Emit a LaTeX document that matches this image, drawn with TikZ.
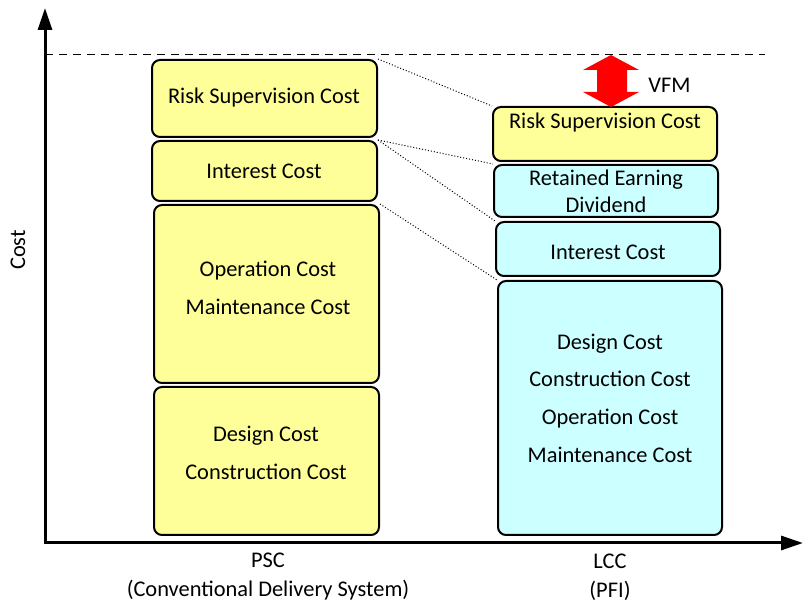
\documentclass[tikz,border=0pt]{standalone}
\usepackage{fontspec}
\setmainfont{Carlito}
\usetikzlibrary{arrows.meta}
\definecolor{paleyellow}{HTML}{FFFF99}
\definecolor{palecyan}{HTML}{CCFFFF}

\begin{document}
\begin{tikzpicture}[x=0.5pt, y=-0.5pt,
		box/.style={draw, line width=1pt, rounded corners=4pt, inner sep=0pt},
		ybox/.style={box, fill=paleyellow},
		cbox/.style={box, fill=palecyan},
		lbl/.style={font=\fontsize{11.2}{13.4}\selectfont, align=center, inner sep=0pt},
		wide/.style={lbl, font=\fontsize{11.2}{18.8}\selectfont},
		link/.style={densely dotted, line width=0.5pt}]
		\useasboundingbox (0,0) rectangle (803,603);
		
		\coordinate (ytop) at (45,8);
		\coordinate (origin) at (45,543);
		\coordinate (xend) at (803,543);
		\draw[{Triangle[length=11pt,width=7pt]}-{Triangle[length=11pt,width=7pt]}, line width=1.5pt]
		(ytop) -- (origin) -- (xend);
		\coordinate (dashl) at (45,55);
		\coordinate (dashr) at (765,55);
		\draw[dashed, dash pattern=on 4pt off 3pt, line width=0.5pt] (dashl) -- (dashr);
		\node[lbl, rotate=90] (ylab) at (18,250) {Cost};
		
		\node[ybox, minimum width=112.5pt, minimum height=38.5pt] (lrisk) at (264.5,98.5) {};
		\node[ybox, minimum width=112.5pt, minimum height=30pt] (lint) at (264.5,171) {};
		\node[ybox, minimum width=112.5pt, minimum height=89pt] (lop) at (266.5,294) {};
		\node[ybox, minimum width=112.5pt, minimum height=74pt] (ldes) at (266.5,461) {};
		
		\node[ybox, minimum width=112pt, minimum height=27pt] (rrisk) at (605,134) {};
		\node[cbox, minimum width=112pt, minimum height=26pt] (rret) at (606,191) {};
		\node[cbox, minimum width=112pt, minimum height=27pt] (rint) at (608,249) {};
		\node[cbox, minimum width=112pt, minimum height=127pt] (rdes) at (610,408) {};
		
		\node[lbl] (lrisktxt) at (264,98) {Risk Supervision Cost};
		\node[lbl] (linttxt) at (264,171) {Interest Cost};
		\node[wide] (loptxt) at (268,288) {Operation Cost\\Maintenance Cost};
		\node[wide] (ldestxt) at (266,453) {Design Cost\\Construction Cost};
		\node[lbl] (rrisktxt) at (605,123) {Risk Supervision Cost};
		\node[lbl] (rrettxt) at (606,191) {Retained Earning\\Dividend};
		\node[lbl] (rinttxt) at (608,252) {Interest Cost};
		\node[wide] (rdestxt) at (610,398) {Design Cost\\Construction Cost\\Operation Cost\\Maintenance Cost};
		
		\draw[link] (lrisk.north east) -- (rrisk.north west);
		\draw[link] (lint.north east) -- (rret.north west);
		\draw[link] (lint.north east) -- (rint.north west);
		\draw[link] (lop.north east) -- (rdes.north west);
		
		\fill[red] (611,55) -- (639,70) -- (627,70) -- (627,92) -- (639,92) -- (611,107)
		-- (583,92) -- (597,92) -- (597,70) -- (583,70) -- cycle;
		\node[lbl, anchor=west] (vfm) at (648,85) {VFM};
		
		\node[lbl, font=\fontsize{11.2}{14.5}\selectfont] (psc) at (268,577) {PSC\\(Conventional Delivery System)};
		\node[lbl, font=\fontsize{11.2}{14.5}\selectfont] (lcc) at (610,577) {LCC\\(PFI)};
		
\end{tikzpicture}
\end{document}
